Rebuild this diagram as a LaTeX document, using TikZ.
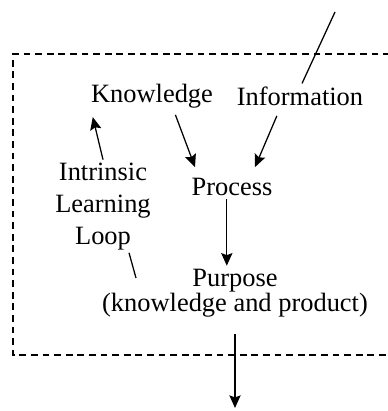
\documentclass[tikz,border=0pt]{standalone}
\usepackage{fontspec}
\setmainfont{Liberation Serif}
\usetikzlibrary{arrows.meta}

\tikzset{
  lbl/.style={inner sep=2pt,font=\fontsize{18.8}{22.7}\selectfont},
  arr/.style={line width=0.9pt,-{Stealth[length=9pt,width=8pt,inset=1.5pt]}},
  plain/.style={line width=0.9pt},
  frame/.style={line width=0.9pt,dash pattern=on 0.17cm off 0.12cm}
}

\begin{document}
\begin{tikzpicture}
        \useasboundingbox (0,0) rectangle (9.7,10.275);
        \draw[frame] (9.75,8.925) -- (0.325,8.925) -- (0.325,1.4) -- (9.75,1.4);
        \node[lbl] (know) at (3.8,7.875) {Knowledge};
        \node[lbl] (info) at (7.5,7.875) {Information};
        \node[lbl] (proc) at (5.8,5.6) {Process};
        \node[lbl,align=center] (loop) at (2.575,5.12) {Intrinsic\\Learning\\Loop};
        \node[lbl,align=center,font=\fontsize{18.8}{17}\selectfont] (purp) at (5.875,2.95) {Purpose\\(knowledge and product)};
        \coordinate (src) at (8.375,9.975);
        \coordinate (out) at (5.875,0.075);
        \coordinate (lpend) at (3.4,3.325);
        \draw[plain] (src) -- ([xshift=0.05cm]info.north);
        \draw[arr,shorten <=0.1cm] ([xshift=0.55cm]know.south) -- ([xshift=-0.925cm,yshift=0.2cm]proc.north);
        \draw[arr,shorten <=0.2cm] ([xshift=-0.5cm]info.south) -- ([xshift=0.575cm,yshift=0.2cm]proc.north);
        \draw[arr] ([xshift=-0.13cm]proc.south) -- ([xshift=-0.13cm]proc.south |- purp.north);
        \draw[arr] (loop.north) -- ([xshift=0.12cm,yshift=-0.15cm]know.south west);
        \draw[plain] ([xshift=0.65cm]loop.south) -- (lpend);
        \draw[arr,shorten <=0.35cm] (purp.south) -- (out);
\end{tikzpicture}
\end{document}
